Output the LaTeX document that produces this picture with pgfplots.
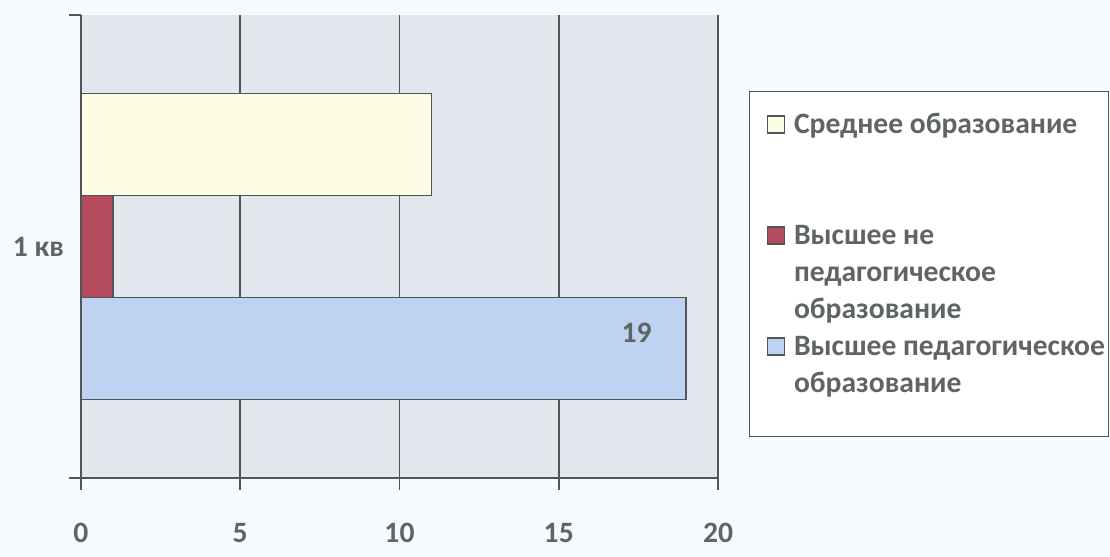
\documentclass[border=0pt]{standalone}
\usepackage{pgfplots}
\pgfplotsset{compat=1.18}
\usepackage{fontspec}
\setmainfont{Carlito}
\definecolor{bgpage}{RGB}{246,250,252}
\definecolor{plotbg}{RGB}{226,231,238}
\definecolor{cyellow}{RGB}{252,253,228}
\definecolor{cred}{RGB}{180,74,94}
\definecolor{cblue}{RGB}{190,210,242}
\definecolor{lineg}{RGB}{80,85,85}
\definecolor{textg}{RGB}{95,100,100}
\newcommand{\lblfont}{\fontsize{14.8}{18}\selectfont\bfseries}
\begin{document}
\begin{tikzpicture}
\fill[bgpage] (0,0) rectangle (555pt,278.5pt);
\useasboundingbox (0,0) rectangle (555pt,278.5pt);
\begin{axis}[
  at={(40.5pt,39.5pt)}, anchor=south west,
  scale only axis, width=318.5pt, height=231.5pt,
  xmin=0, xmax=20, ymin=-1, ymax=1,
  xtick={0,5,10,15,20},
  ytick={-1,1}, yticklabels={},
  extra y ticks={0}, extra y tick labels={1 кв},
  extra y tick style={major tick length=0pt},
  axis x line*=bottom, axis y line*=left,
  axis line style={lineg, line width=0.8pt, -},
  tick style={lineg, line width=0.8pt},
  tick align=outside, major tick length=6pt,
  xmajorgrids, grid style={lineg, line width=0.8pt},
  axis background/.style={fill=plotbg},
  tick label style={font=\lblfont, text=textg},
  /pgf/number format/assume math mode=true,
  xticklabel style={yshift=-13pt},
  yticklabel style={xshift=-5pt},
  legend style={
    at={(1.0487,0.836)}, anchor=north west,
    draw=lineg, line width=0.6pt, fill=white,
    inner xsep=1.5pt, inner ysep=9pt,
    font=\lblfont, text=textg,
    row sep=2.5pt, column sep=4.5pt,
    cells={anchor=base west},
    nodes={text height=12pt, text depth=4pt, inner sep=0pt, text=textg},
  },
  legend image code/.code={\path (-7pt,0pt); \draw[#1,line width=0.6pt] (0pt,0.3pt) rectangle (8.5pt,8.8pt);},
]
\addplot[xbar, bar width=51pt, bar shift=51pt, fill=cyellow, draw=lineg, line width=0.8pt] coordinates {(11,0)};
\addlegendentry{Среднее образование}
\addlegendimage{empty legend}\addlegendentry{\mbox{}}
\addlegendimage{empty legend}\addlegendentry{\mbox{}}
\addplot[xbar, bar width=51pt, bar shift=0pt, fill=cred, draw=lineg, line width=0.8pt] coordinates {(1,0)};
\addlegendentry{Высшее не}
\addlegendimage{empty legend}\addlegendentry{педагогическое}
\addlegendimage{empty legend}\addlegendentry{образование}
\addplot[xbar, bar width=51pt, bar shift=-51pt, fill=cblue, draw=lineg, line width=0.8pt,
  nodes near coords, nodes near coords style={anchor=east, xshift=-13.5pt, yshift=-43pt, font=\lblfont, text=textg}] coordinates {(19,0)};
\addlegendentry{Высшее педагогическое}
\addlegendimage{empty legend}\addlegendentry[text depth=13pt]{образование}
\end{axis}
\end{tikzpicture}
\end{document}
